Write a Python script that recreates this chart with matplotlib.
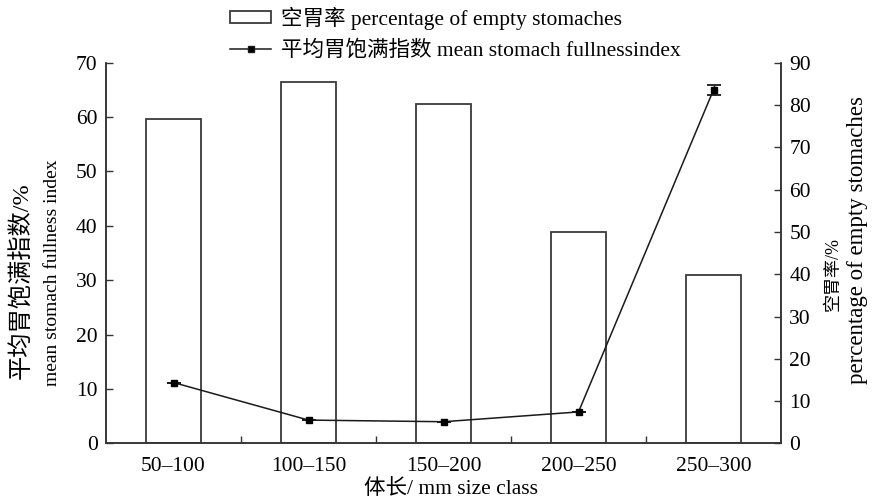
import matplotlib
matplotlib.use("Agg")
import matplotlib.pyplot as plt
from matplotlib.patches import Patch
from matplotlib.lines import Line2D
import numpy as np

plt.rcParams['font.family'] = ['Liberation Serif', 'Noto Sans CJK SC']
plt.rcParams['axes.unicode_minus'] = False

categories = ["50–100", "100–150", "150–200", "200–250", "250–300"]
empty_pct = [76.6, 85.4, 80.2, 50.0, 39.8]          # right axis, bars
fullness = [11.2, 4.3, 4.0, 5.8, 65.0]              # left axis, line
fullness_err = [0, 0, 0, 0, 0.9]

fig = plt.figure(figsize=(8.74, 5.01), dpi=100)
ax = fig.add_axes([0.1213, 0.1148, 0.8936 - 0.1213, 0.8749 - 0.1148])
ax2 = ax.twinx()

x = np.arange(len(categories))
ax2.bar(x, empty_pct, width=0.405, facecolor='white', edgecolor='#3a3a3a', linewidth=1.3)
ax.errorbar(x, fullness, yerr=fullness_err, color='#1a1a1a', linewidth=1.1,
            marker='s', markersize=4.5, markerfacecolor='black', markeredgecolor='black',
            capsize=5, capthick=1.3, elinewidth=1.0)

ax.set_zorder(ax2.get_zorder() + 1)
ax.patch.set_visible(False)

ax.set_xlim(-0.5, 4.5)
ax.set_ylim(0, 70)
ax2.set_ylim(0, 90)
ax.set_yticks(np.arange(0, 71, 10))
ax2.set_yticks(np.arange(0, 91, 10))
ax.set_xticks(x)
ax.set_xticklabels(categories)
ax.set_xticks([0.5, 1.5, 2.5, 3.5], minor=True)

fs = 15.5
ax.tick_params(axis='x', which='major', length=0, labelsize=fs, pad=10)
ax.tick_params(axis='x', which='minor', direction='in', length=5, width=1.0, color='#333')
ax.tick_params(axis='y', direction='in', length=5, width=1.0, labelsize=fs, color='#333', pad=6)
ax2.tick_params(axis='y', direction='in', length=5, width=1.0, labelsize=fs, color='#333', pad=6)

for a in (ax, ax2):
    a.spines['top'].set_visible(False)
    for s in ('left', 'right', 'bottom'):
        a.spines[s].set_linewidth(1.1)
        a.spines[s].set_color('#333')

# axis labels
fig.text(22 / 874, 1 - 281 / 501, "平均胃饱满指数/%", rotation=90, ha='center', va='center', fontsize=17.5)
fig.text(53 / 874, 1 - 273 / 501, "mean stomach fullness index", rotation=90, ha='center', va='center', fontsize=14)
fig.text(833 / 874, 1 - 274 / 501, "空胃率/%", rotation=90, ha='center', va='center', fontsize=13)
fig.text(857 / 874, 1 - 240 / 501, "percentage of empty stomaches", rotation=90, ha='center', va='center', fontsize=16.5)
fig.text(451 / 874, 1 - 489 / 501, "体长/ mm size class", ha='center', va='center', fontsize=fs)

handles = [Patch(facecolor='white', edgecolor='#3a3a3a', linewidth=1.3),
           Line2D([], [], color='#1a1a1a', linewidth=1.1, marker='s', markersize=4.5,
                  markerfacecolor='black')]
labels = ["空胃率 percentage of empty stomaches", "平均胃饱满指数 mean stomach fullnessindex"]
fig.legend(handles, labels, loc='upper left', bbox_to_anchor=(226 / 874, 1 - 2 / 501), frameon=False,
           fontsize=fs, handlelength=1.9, handleheight=0.45, handletextpad=0.45,
           labelspacing=0.5, borderpad=0.2, borderaxespad=0)

fig.savefig("out.png", dpi=100)
